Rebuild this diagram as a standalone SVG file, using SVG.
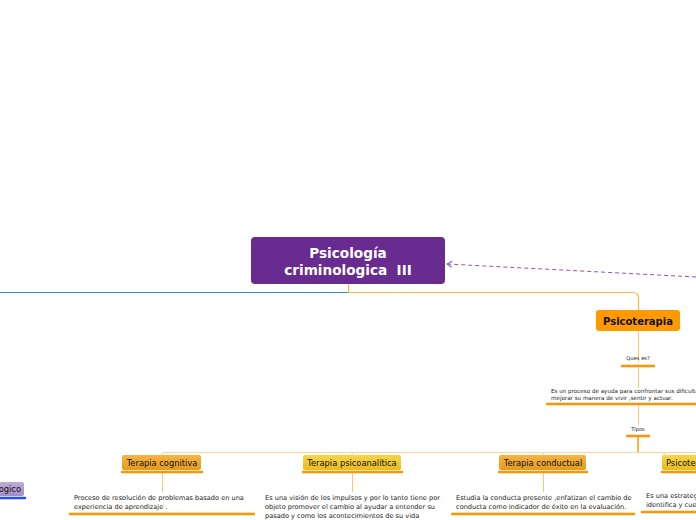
<svg xmlns="http://www.w3.org/2000/svg" width="696" height="520" viewBox="0 0 696 520">
<defs>
<style>
.t{font-family:"DejaVu Sans",Verdana,sans-serif;fill:#222}
.s{font-size:6.6px}
.n{font-size:8.3px;fill:#111}
.ul{stroke:#ff9500;stroke-width:2.5;stroke-linecap:round;fill:none}
.ln{stroke:#ffc870;stroke-width:1;fill:none}
</style>
<linearGradient id="go" x1="0" y1="0" x2="0" y2="1"><stop offset="0" stop-color="#f5b445"/><stop offset="1" stop-color="#e39a1e"/></linearGradient>
<linearGradient id="gy" x1="0" y1="0" x2="0" y2="1"><stop offset="0" stop-color="#f7d54a"/><stop offset="1" stop-color="#e8bc1e"/></linearGradient>
<linearGradient id="gp" x1="0" y1="0" x2="0" y2="1"><stop offset="0" stop-color="#c0acd6"/><stop offset="1" stop-color="#a58cc2"/></linearGradient>
<marker id="arr" markerWidth="8" markerHeight="8" refX="6" refY="4" orient="auto" markerUnits="userSpaceOnUse"><path d="M1,1 L6,4 L1,7" fill="none" stroke="#8a5bb0" stroke-width="1"/></marker>
</defs>
<rect width="696" height="520" fill="#fff"/>
<g id="connectors">
<line x1="0" y1="292.5" x2="348" y2="292.5" stroke="#3f7fff" stroke-width="1.2"/>
<path d="M348.5,284 V292.5 H633 Q638.5,292.5 638.5,298 V310" stroke="#ffb640" stroke-width="1.2" fill="none"/>
<path d="M696,277 L447,264" stroke="#8a5bb0" stroke-width="1" stroke-dasharray="4,3" fill="none" marker-end="url(#arr)"/>
<line class="ln" x1="638.5" y1="331" x2="638.5" y2="362"/>
<line class="ln" x1="638.5" y1="366" x2="638.5" y2="388"/>
<line class="ln" x1="638.5" y1="404" x2="638.5" y2="425"/>
<line x1="638" y1="436" x2="638" y2="452" stroke="#ff9500" stroke-width="1.5"/>
<path d="M696,452.5 H545 Q543,452.5 543,455 M545,452.5 H354 Q352,452.5 352,455 M354,452.5 H164 Q162,452.5 162,455" stroke="#ffd59a" stroke-width="1.2" fill="none"/>
<path d="M666,452.5 Q664,452.5 664,455" stroke="#ffd59a" stroke-width="1.2" fill="none"/>
<line class="ln" x1="162.5" y1="472" x2="162.5" y2="492"/>
<line class="ln" x1="352.5" y1="472" x2="352.5" y2="492"/>
<line class="ln" x1="543.5" y1="472" x2="543.5" y2="492"/>
</g>
<g id="central">
<rect x="251" y="237" width="194" height="47" rx="4" fill="#682c91"/>
<text x="348" y="258" text-anchor="middle" font-family="'DejaVu Sans',Verdana,sans-serif" font-weight="bold" font-size="13.6" fill="#fff">Psicología</text>
<text x="348" y="275" text-anchor="middle" font-family="'DejaVu Sans',Verdana,sans-serif" font-weight="bold" font-size="13.6" fill="#fff" xml:space="preserve">criminologica  III</text>
</g>
<g id="psicoterapia">
<rect x="596" y="310" width="84" height="21" rx="3" fill="#ff9900"/>
<text x="638" y="325" text-anchor="middle" font-family="'DejaVu Sans',Verdana,sans-serif" font-weight="bold" font-size="10" fill="#111">Psicoterapia</text>
</g>
<g id="quees">
<text class="t" x="638" y="360" text-anchor="middle" font-size="5.2">Ques es?</text>
<line class="ul" x1="622" y1="366" x2="654" y2="366"/>
</g>
<g id="def">
<text class="t" x="551" y="393" font-size="5.6">Es un proceso de ayuda para confrontar sus dificultades</text>
<text class="t" x="551" y="399.5" font-size="5.6">mejorar su manera de vivir ,sentir y actuar.</text>
<line class="ul" x1="547" y1="404" x2="700" y2="404"/>
</g>
<g id="tipos">
<text class="t" x="638" y="431" text-anchor="middle" font-size="5.2">Tipos</text>
<line class="ul" x1="627" y1="436" x2="649" y2="436"/>
</g>
<g id="cognitiva">
<rect x="122" y="455" width="79" height="15" rx="2" fill="url(#go)"/>
<text class="t n" x="162" y="466" text-anchor="middle">Terapia cognitiva</text>
<line class="ul" x1="122" y1="472" x2="202" y2="472"/>
</g>
<g id="cognitiva-text">
<text class="t s" x="74" y="500">Proceso de resolución de problemas basado en una</text>
<text class="t s" x="74" y="509">experiencia de aprendizaje .</text>
<line class="ul" x1="70" y1="514" x2="254" y2="514"/>
</g>
<g id="psicoanalitica">
<rect x="303" y="455" width="98" height="15" rx="2" fill="url(#gy)"/>
<text class="t n" x="352" y="466" text-anchor="middle">Terapia psicoanalítica</text>
<line class="ul" x1="303" y1="472" x2="402" y2="472"/>
</g>
<g id="psicoanalitica-text">
<text class="t s" x="265" y="500">Es una visión de los impulsos y por lo tanto tiene por</text>
<text class="t s" x="265" y="509">objeto promover el cambio al ayudar a entender su</text>
<text class="t s" x="265" y="518">pasado y como los acontecimientos de su vida</text>
</g>
<g id="conductual">
<rect x="499" y="455" width="87" height="15" rx="2" fill="url(#go)"/>
<text class="t n" x="543" y="466" text-anchor="middle">Terapia conductual</text>
<line class="ul" x1="499" y1="472" x2="587" y2="472"/>
</g>
<g id="conductual-text">
<text class="t s" x="456" y="500">Estudia la conducta presente ,enfatizan el cambio de</text>
<text class="t s" x="456" y="509">conducta como indicador de éxito en la evaluación.</text>
<line class="ul" x1="452" y1="514" x2="634" y2="514"/>
</g>
<g id="psicoter4">
<rect x="662" y="455" width="60" height="15" rx="2" fill="url(#gy)"/>
<text class="t n" x="666" y="466">Psicoterapia</text>
<line class="ul" x1="662" y1="472" x2="700" y2="472"/>
</g>
<g id="psicoter4-text">
<text class="t s" x="646" y="498">Es una estrategia</text>
<text class="t s" x="646" y="507">identifica y cuestiona</text>
<line class="ul" x1="642" y1="512" x2="700" y2="512"/>
</g>
<g id="left">
<rect x="-40" y="482" width="64" height="14" rx="2" fill="url(#gp)"/>
<text class="t n" x="21" y="492" text-anchor="end">ogico</text>
<line x1="-2" y1="498" x2="25" y2="498" stroke="#1f4fff" stroke-width="2.5" stroke-linecap="round"/>
</g>
</svg>
